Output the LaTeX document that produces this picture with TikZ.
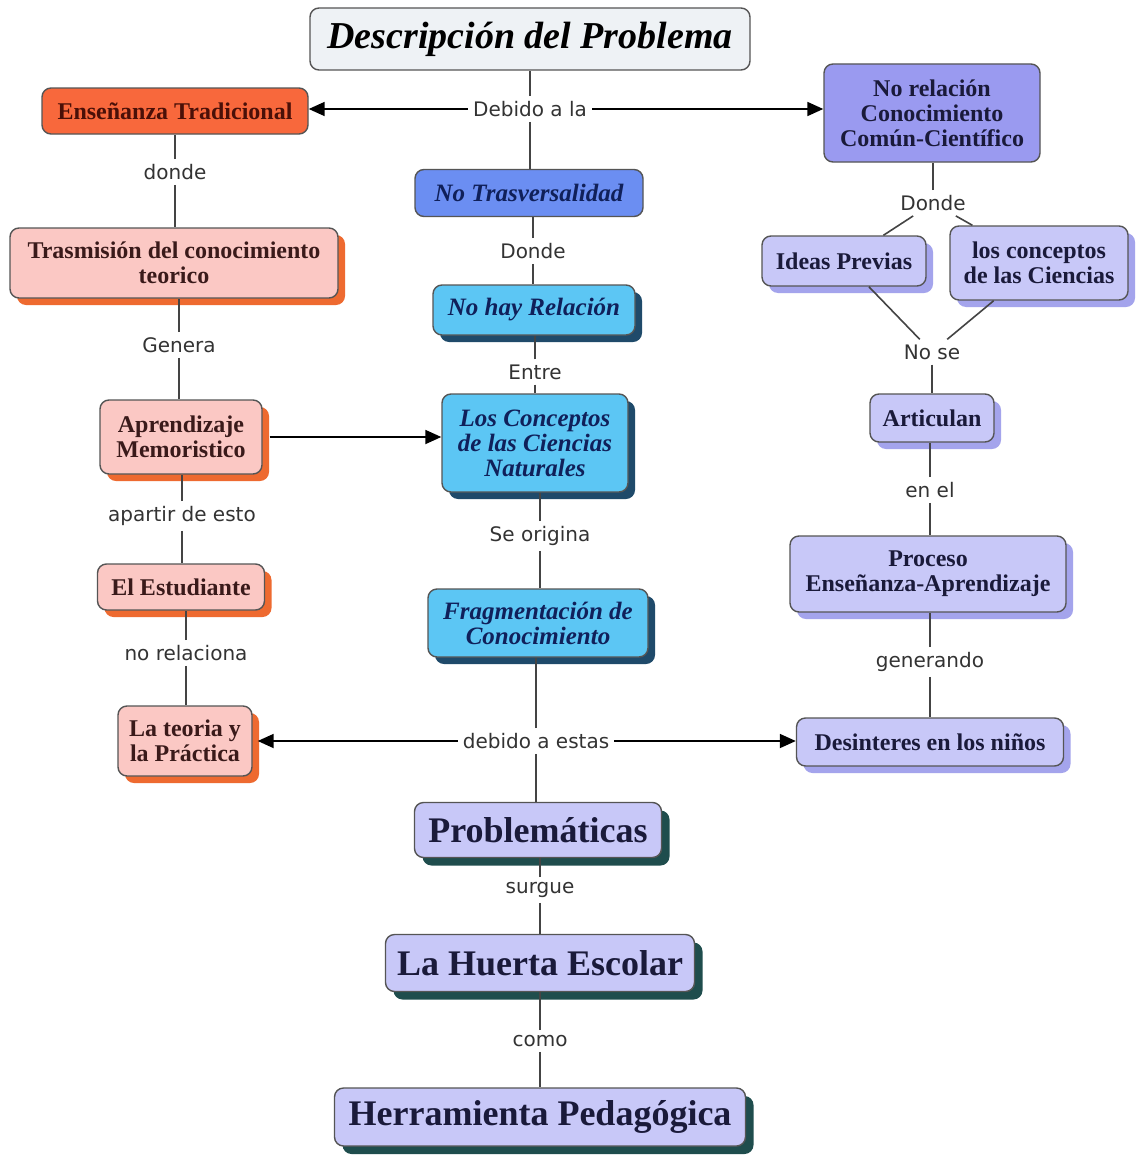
\documentclass[tikz,border=0pt]{standalone}
\usepackage{fontspec}
\setmainfont{Liberation Serif}
\newfontfamily\labfont{DejaVu Sans}
\usetikzlibrary{shadows,arrows.meta}
\definecolor{boxline}{HTML}{555555}
\definecolor{descfill}{HTML}{EEF2F5}
\definecolor{ensfill}{HTML}{F8683C}
\definecolor{enstext}{HTML}{4A1008}
\definecolor{pinkfill}{HTML}{FBC8C4}
\definecolor{pinkshadow}{HTML}{EE6A30}
\definecolor{pinktext}{HTML}{3A1A1A}
\definecolor{norelfill}{HTML}{9A9AF0}
\definecolor{trafill}{HTML}{6B8EF2}
\definecolor{bluetext}{HTML}{10205A}
\definecolor{skyfill}{HTML}{5CC6F4}
\definecolor{skyshadow}{HTML}{1F4A6A}
\definecolor{lavfill}{HTML}{C8C8F8}
\definecolor{lavshadow}{HTML}{A4A4EC}
\definecolor{lavtext}{HTML}{1A1A3A}
\definecolor{tealshadow}{HTML}{1F4D4D}
\definecolor{linegray}{HTML}{444444}
\definecolor{labtext}{HTML}{333333}
\tikzset{
  box/.style={draw=boxline, line width=1.4pt, rounded corners=9pt, align=center,
    inner sep=2pt, font=\bfseries\fontsize{24}{25}\selectfont},
  descbox/.style={box, fill=descfill, text=black, font=\bfseries\itshape\fontsize{38}{40}\selectfont},
  ensbox/.style={box, fill=ensfill, text=enstext},
  pinkbox/.style={box, fill=pinkfill, text=pinktext,
    drop shadow={shadow xshift=7pt, shadow yshift=-7pt, fill=pinkshadow, opacity=1}},
  norelbox/.style={box, fill=norelfill, text=lavtext},
  trabox/.style={box, fill=trafill, text=bluetext, font=\bfseries\itshape\fontsize{25}{25}\selectfont},
  skybox/.style={box, fill=skyfill, text=bluetext, font=\bfseries\itshape\fontsize{25}{25}\selectfont,
    drop shadow={shadow xshift=7pt, shadow yshift=-7pt, fill=skyshadow, opacity=1}},
  lavbox/.style={box, fill=lavfill, text=lavtext,
    drop shadow={shadow xshift=7pt, shadow yshift=-7pt, fill=lavshadow, opacity=1}},
  bigbox/.style={box, fill=lavfill, text=lavtext, font=\bfseries\fontsize{36}{40}\selectfont,
    drop shadow={shadow xshift=8pt, shadow yshift=-8pt, fill=tealshadow, opacity=1}},
  lbl/.style={font=\labfont\fontsize{20}{22}\selectfont, text=labtext, inner sep=5pt},
  conn/.style={draw=linegray, line width=1.6pt},
  arr/.style={draw=black, line width=1.8pt, -{Triangle[length=16pt,width=14pt]}}
}
\begin{document}
\begin{tikzpicture}[x=1pt,y=-1pt]
\useasboundingbox (0,0) rectangle (1136,1156);
\fill[white] (0,0) rectangle (1136,1156);

% top
\node[descbox, minimum width=440pt, minimum height=62pt] (desc) at (530,39) {Descripción del Problema};
\node[ensbox, minimum width=266pt, minimum height=46pt] (ens) at (175,111) {Enseñanza Tradicional};
\node[norelbox, minimum width=216pt, minimum height=98pt] (norel) at (932,113) {No relación\\Conocimiento\\Común-Científico};
\node[lbl] (debido) at (530,109) {Debido a la};

% center column
\node[trabox, minimum width=228pt, minimum height=47pt] (notrav) at (529,193) {No Trasversalidad};
\node[lbl] (donde2) at (533,251) {Donde};
\node[skybox, minimum width=202pt, minimum height=50pt] (nohay) at (534,310) {No hay Relación};
\node[lbl] (entre) at (535,372) {Entre};
\node[skybox, minimum width=186pt, minimum height=98pt] (conc) at (535,443) {Los Conceptos\\de las Ciencias\\Naturales};
\node[lbl] (seorig) at (540,536) {Se origina};
\node[skybox, minimum width=220pt, minimum height=68pt] (frag) at (538,623) {Fragmentación de\\Conocimiento};
\node[lbl] (debest) at (536,741) {debido a estas};
\node[bigbox, minimum width=247pt, minimum height=55pt] (probl) at (538,830) {Problemáticas};
\node[lbl] (surgue) at (540,890) {surgue};
\node[bigbox, minimum width=309pt, minimum height=57pt] (huerta) at (540,963) {La Huerta Escolar};
\node[lbl] (como) at (540,1041) {como};
\node[bigbox, minimum width=411pt, minimum height=58pt] (herr) at (540,1117) {Herramienta Pedagógica};

% left column
\node[lbl] (donde1) at (175,172) {donde};
\node[pinkbox, minimum width=328pt, minimum height=70pt] (trasm) at (174,263) {Trasmisión del conocimiento\\teorico};
\node[lbl] (genera) at (179,345) {Genera};
\node[pinkbox, minimum width=162pt, minimum height=74pt] (aprend) at (181,437) {Aprendizaje\\Memoristico};
\node[lbl] (apartir) at (182,516) {apartir de esto};
\node[pinkbox, minimum width=167pt, minimum height=46pt] (estud) at (181,587) {El Estudiante};
\node[lbl] (norelac) at (186,653) {no relaciona};
\node[pinkbox, minimum width=134pt, minimum height=70pt] (teoria) at (185,741) {La teoria y\\la Práctica};

% right column
\node[lbl] (donde3) at (933,203) {Donde};
\node[lavbox, minimum width=164pt, minimum height=50pt] (ideas) at (844,261) {Ideas Previas};
\node[lavbox, minimum width=178pt, minimum height=74pt] (losconc) at (1039,263) {los conceptos\\de las Ciencias};
\node[lbl] (nose) at (932,352) {No se};
\node[lavbox, minimum width=124pt, minimum height=48pt] (artic) at (932,418) {Articulan};
\node[lbl] (enel) at (930,490) {en el};
\node[lavbox, minimum width=276pt, minimum height=76pt] (proceso) at (928,574) {Proceso\\Enseñanza-Aprendizaje};
\node[lbl] (generando) at (930,662) {generando};
\node[lavbox, minimum width=267pt, minimum height=48pt] (desint) at (930,742) {Desinteres en los niños};

% center connectors
\draw[conn] (debido) -- (debido |- desc.south);
\draw[conn] (debido) -- (debido |- notrav.north);
\draw[arr] (debido) -- (debido -| ens.east);
\draw[arr] (debido) -- (debido -| norel.west);
\draw[conn] (donde2) -- (donde2 |- notrav.south);
\draw[conn] (donde2) -- (donde2 |- nohay.north);
\draw[conn] (entre) -- (entre |- nohay.south);
\draw[conn] (entre) -- (entre |- conc.north);
\draw[conn] (seorig) -- (seorig |- conc.south);
\draw[conn] (seorig) -- (seorig |- frag.north);
\draw[conn] (debest) -- (debest |- frag.south);
\draw[conn] (debest) -- (debest |- probl.north);
\draw[arr] (debest) -- ([xshift=5pt]debest -| teoria.east);
\draw[arr] (debest) -- (debest -| desint.west);
\draw[conn] (surgue) -- (surgue |- probl.south);
\draw[conn] (surgue) -- (surgue |- huerta.north);
\draw[conn] (como) -- (como |- huerta.south);
\draw[conn] (como) -- (como |- herr.north);

% left connectors
\draw[conn] (donde1) -- (donde1 |- ens.south);
\draw[conn] (donde1) -- (donde1 |- trasm.north);
\draw[conn] (genera) -- (genera |- trasm.south);
\draw[conn] (genera) -- (genera |- aprend.north);
\draw[conn] (apartir) -- (apartir |- aprend.south);
\draw[conn] (apartir) -- (apartir |- estud.north);
\draw[conn] (norelac) -- (norelac |- estud.south);
\draw[conn] (norelac) -- (norelac |- teoria.north);
\draw[arr] ([xshift=7pt]aprend.east) -- (aprend.east -| conc.west);

% right connectors
\draw[conn] (donde3) -- (donde3 |- norel.south);
\draw[conn] (donde3) -- (ideas);
\draw[conn] (donde3) -- (losconc);
\draw[conn] (ideas) -- (nose);
\draw[conn] (losconc) -- (nose);
\draw[conn] (nose) -- (nose |- artic.north);
\draw[conn] (enel) -- (enel |- artic.south);
\draw[conn] (enel) -- (enel |- proceso.north);
\draw[conn] (generando) -- (generando |- proceso.south);
\draw[conn] (generando) -- (generando |- desint.north);
\end{tikzpicture}
\end{document}
